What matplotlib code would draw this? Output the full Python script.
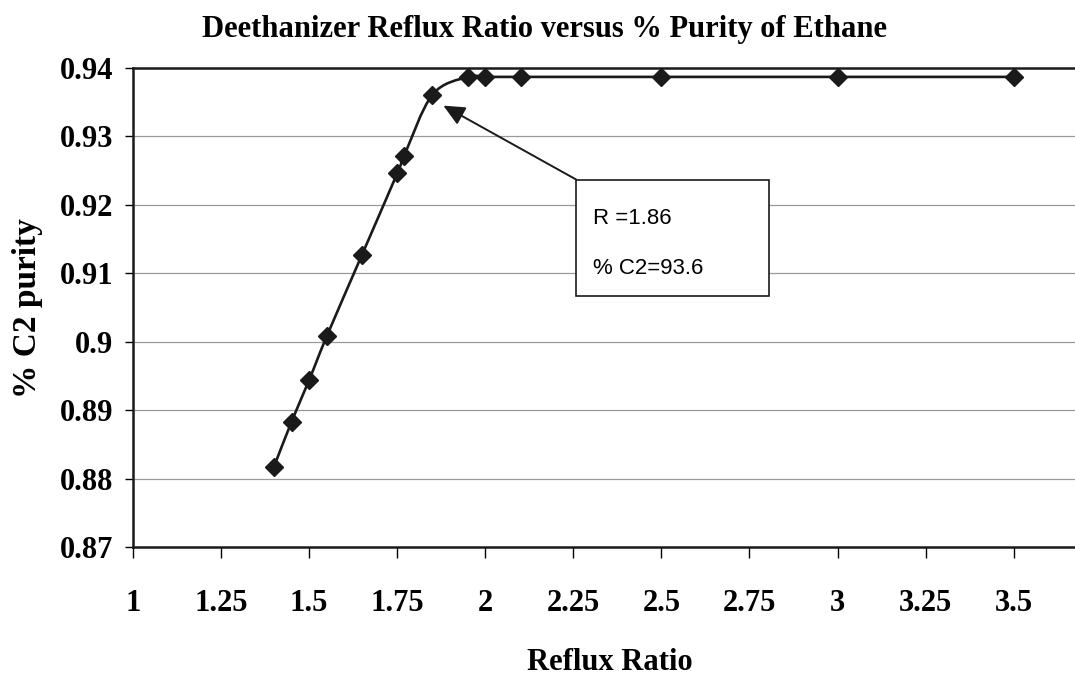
import matplotlib
matplotlib.use("Agg")
import matplotlib.pyplot as plt
import numpy as np
from matplotlib.path import Path
from matplotlib.patches import PathPatch, Rectangle

# data
reflux_ratio = [1.40, 1.45, 1.50, 1.55, 1.65, 1.75, 1.77, 1.85, 1.95, 2.00, 2.10, 2.50, 3.00, 3.50]
c2_purity = [0.8817, 0.8883, 0.8944, 0.9008, 0.9127, 0.9246, 0.9272, 0.9361,
             0.9387, 0.9387, 0.9387, 0.9387, 0.9387, 0.9387]
x_ticks = [1, 1.25, 1.5, 1.75, 2, 2.25, 2.5, 2.75, 3, 3.25, 3.5]
x_tick_labels = ["1", "1.25", "1.5", "1.75", "2", "2.25", "2.5", "2.75", "3", "3.25", "3.5"]
y_ticks = [0.87, 0.88, 0.89, 0.90, 0.91, 0.92, 0.93, 0.94]
y_tick_labels = ["0.87", "0.88", "0.89", "0.9", "0.91", "0.92", "0.93", "0.94"]

serif = "Liberation Serif"
sans = "Liberation Sans"


def smooth_path(xs, ys, t=1 / 6):
    """Excel-like smoothed line: cubic bezier segments through the points."""
    pts = np.column_stack([xs, ys])
    n = len(pts)
    verts = [pts[0]]
    codes = [Path.MOVETO]
    for i in range(n - 1):
        p0 = pts[i - 1] if i > 0 else pts[i]
        p1 = pts[i]
        p2 = pts[i + 1]
        p3 = pts[i + 2] if i + 2 < n else pts[i + 1]
        c1 = p1 + (p2 - p0) * t
        c2 = p2 - (p3 - p1) * t
        verts += [c1, c2, p2]
        codes += [Path.CURVE4] * 3
    return Path(verts, codes)


fig = plt.figure(figsize=(10.75, 6.75), dpi=100)
ax = fig.add_axes([133 / 1075, 1 - 547 / 675, 1 - 133 / 1075, (547 - 68) / 675])

ax.set_xlim(1, 3.674)
ax.set_ylim(0.87, 0.94)

for yv in y_ticks[1:-1]:
    ax.axhline(yv, color="#9a9a9a", lw=0.9, zorder=0)

line = PathPatch(smooth_path(reflux_ratio, c2_purity), facecolor="none",
                 edgecolor="#1a1a1a", lw=1.9, zorder=2)
ax.add_patch(line)
ax.plot(reflux_ratio, c2_purity, linestyle="none", marker="D", markersize=9,
        color="#1a1a1a", zorder=3)

ax.set_xticks(x_ticks)
ax.set_xticklabels(x_tick_labels, fontfamily=serif, fontweight="bold", fontsize=22)
ax.set_yticks(y_ticks)
ax.set_yticklabels(y_tick_labels, fontfamily=serif, fontweight="bold", fontsize=22)
ax.tick_params(axis="x", direction="out", length=8, width=1, pad=22)
ax.tick_params(axis="y", direction="out", length=6, width=1, pad=8)

for side in ["left", "bottom", "top"]:
    ax.spines[side].set_linewidth(1.8)
    ax.spines[side].set_color("#1a1a1a")
ax.spines["right"].set_visible(False)

fig.text(545 / 1075, 1 - 30 / 675, "Deethanizer Reflux Ratio versus % Purity of Ethane",
         ha="center", va="center", fontfamily=serif, fontweight="bold", fontsize=22)
fig.text(610 / 1075, 1 - 662 / 675, "Reflux Ratio", ha="center", va="center",
         fontfamily=serif, fontweight="bold", fontsize=22)
fig.text(28 / 1075, 1 - 308 / 675, "% C2 purity", ha="center", va="center",
         rotation=90, fontfamily=serif, fontweight="bold", fontsize=24)

# callout box with arrow
box = Rectangle((2.258, 0.9067), 2.805 - 2.258, 0.9237 - 0.9067, facecolor="white",
                edgecolor="#1a1a1a", lw=1.2, zorder=4)
ax.add_patch(box)
ax.text(2.305, 0.9180, "R =1.86", fontfamily=sans, fontsize=16, va="center", zorder=5)
ax.text(2.305, 0.9107, "% C2=93.6", fontfamily=sans, fontsize=16, va="center", zorder=5)
ax.annotate("", xy=(1.881, 0.9345), xytext=(2.258, 0.9237),
            arrowprops=dict(arrowstyle="-|>,head_length=1.3,head_width=0.6",
                            color="#1a1a1a", lw=1.4, shrinkA=0, shrinkB=0), zorder=5)

fig.savefig("out.png", dpi=100, facecolor="white")
